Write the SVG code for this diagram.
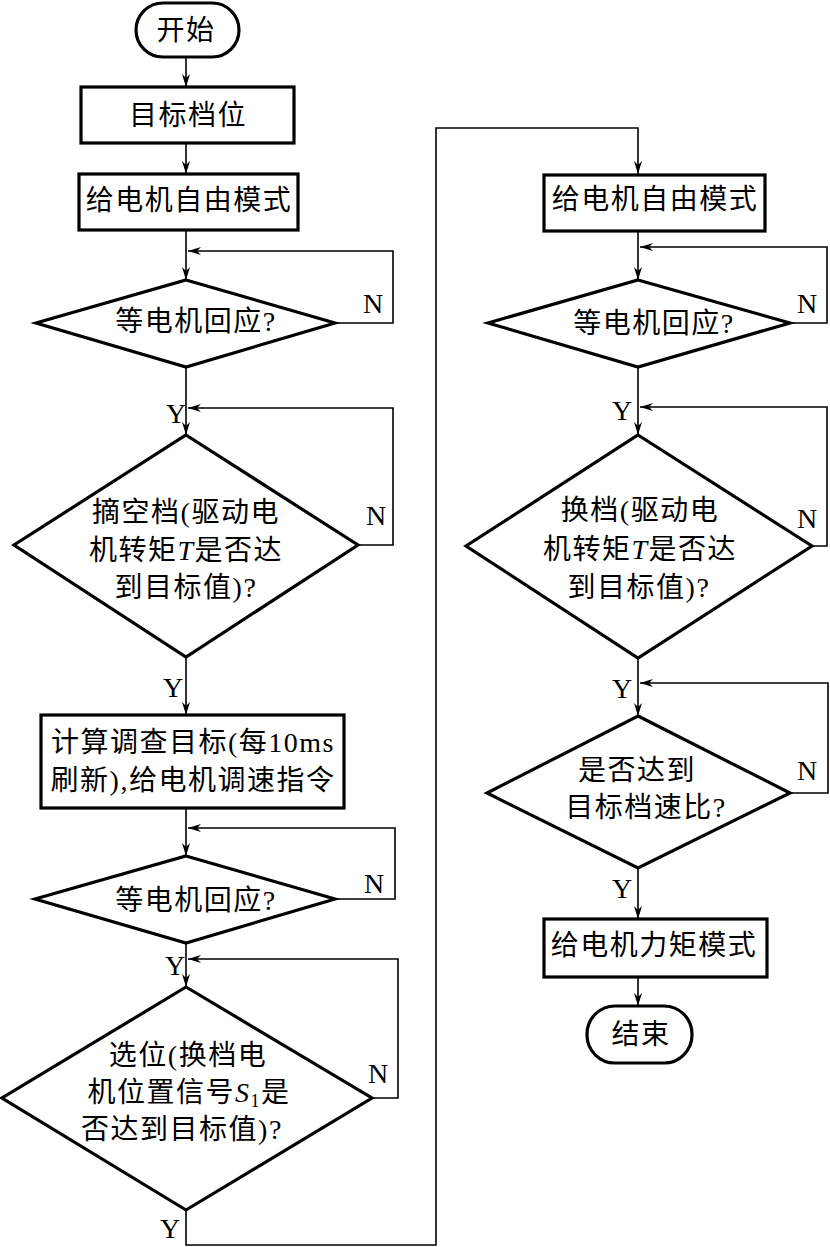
<svg xmlns="http://www.w3.org/2000/svg" width="830" height="1247" viewBox="0 0 830 1247">
<style>
.shape{fill:#fff;stroke:#000;stroke-width:3.2;stroke-linejoin:miter}
.conn{fill:none;stroke:#000;stroke-width:1.6}
.t{font-family:"Liberation Serif","Noto Sans CJK SC",serif;font-size:28px;letter-spacing:1.5px;text-anchor:middle;fill:#000}
.lbl{font-family:"Liberation Serif",serif;font-size:28px;fill:#000}
</style>
<defs>
<marker id="arr" markerUnits="userSpaceOnUse" markerWidth="14" markerHeight="10" refX="13" refY="4" orient="auto">
<path d="M0,0 L13,4 L0,8 L4,4 Z" fill="#000"/>
</marker>
</defs>
<rect width="830" height="1247" fill="#fff"/>
<g id="connectors">
<path class="conn" d="M186,57 V87" marker-end="url(#arr)"/>
<path class="conn" d="M186,143 V174" marker-end="url(#arr)"/>
<path class="conn" d="M186,230 V280" marker-end="url(#arr)"/>
<path class="conn" d="M335,323 H393 V251 H188" marker-end="url(#arr)"/>
<path class="conn" d="M186,367 V435" marker-end="url(#arr)"/>
<path class="conn" d="M358,545 H393 V408 H188" marker-end="url(#arr)"/>
<path class="conn" d="M186,657 V715" marker-end="url(#arr)"/>
<path class="conn" d="M186,808 V856" marker-end="url(#arr)"/>
<path class="conn" d="M335,899 H395 V828 H188" marker-end="url(#arr)"/>
<path class="conn" d="M186,943 V987" marker-end="url(#arr)"/>
<path class="conn" d="M372,1098 H398 V959 H188" marker-end="url(#arr)"/>
<path class="conn" d="M186,1210 V1245 H436 V128 H638 V174" marker-end="url(#arr)"/>
<path class="conn" d="M638,231 V280" marker-end="url(#arr)"/>
<path class="conn" d="M790,323 H827 V247 H640" marker-end="url(#arr)"/>
<path class="conn" d="M638,367 V435" marker-end="url(#arr)"/>
<path class="conn" d="M812,546 H827 V407 H640" marker-end="url(#arr)"/>
<path class="conn" d="M638,658 V716" marker-end="url(#arr)"/>
<path class="conn" d="M790,793 H828 V683 H640" marker-end="url(#arr)"/>
<path class="conn" d="M638,868 V919" marker-end="url(#arr)"/>
<path class="conn" d="M638,977 V1006" marker-end="url(#arr)"/>
<text class="lbl" x="363" y="313">N</text>
<text class="lbl" x="366" y="525">N</text>
<text class="lbl" x="364" y="893">N</text>
<text class="lbl" x="368" y="1083">N</text>
<text class="lbl" x="797" y="313">N</text>
<text class="lbl" x="797" y="528">N</text>
<text class="lbl" x="797" y="780">N</text>
<text class="lbl" x="166" y="423">Y</text>
<text class="lbl" x="163" y="697">Y</text>
<text class="lbl" x="165" y="975">Y</text>
<text class="lbl" x="160" y="1238">Y</text>
<text class="lbl" x="612" y="420">Y</text>
<text class="lbl" x="612" y="698">Y</text>
<text class="lbl" x="612" y="898">Y</text>
</g>
<g id="start">
<rect class="shape" x="136" y="3" width="103" height="54" rx="27"/>
<text class="t" x="186" y="40">开始</text>
</g>
<g id="target-gear">
<rect class="shape" x="81" y="87" width="213" height="56"/>
<text class="t" x="188" y="125">目标档位</text>
</g>
<g id="free-mode-1">
<rect class="shape" x="79" y="174" width="219" height="56"/>
<text class="t" x="189" y="210">给电机自由模式</text>
</g>
<g id="wait-1">
<polygon class="shape" points="186,280 335,323 186,367 36,323"/>
<text class="t" x="196" y="331">等电机回应?</text>
</g>
<g id="neutral">
<polygon class="shape" points="186,435 358,545 186,657 14,545"/>
<text class="t" x="186" y="522">摘空档(驱动电</text>
<text class="t" x="186" y="560">机转矩<tspan font-style="italic">T</tspan>是否达</text>
<text class="t" x="186" y="597">到目标值)?</text>
</g>
<g id="compute">
<rect class="shape" x="41" y="715" width="303" height="93"/>
<text class="t" x="193" y="752">计算调查目标(每10ms</text>
<text class="t" x="193" y="790">刷新),给电机调速指令</text>
</g>
<g id="wait-2">
<polygon class="shape" points="186,856 335,899 186,943 35,899"/>
<text class="t" x="196" y="910">等电机回应?</text>
</g>
<g id="select">
<polygon class="shape" points="186,987 372,1098 186,1210 2,1098"/>
<text class="t" x="188" y="1065">选位(换档电</text>
<text class="t" x="189" y="1102">机位置信号<tspan font-style="italic">S</tspan><tspan font-size="18" dy="5">1</tspan><tspan dy="-5">是</tspan></text>
<text class="t" x="182" y="1139">否达到目标值)?</text>
</g>
<g id="free-mode-2">
<rect class="shape" x="544" y="175" width="221" height="56"/>
<text class="t" x="655" y="209">给电机自由模式</text>
</g>
<g id="wait-3">
<polygon class="shape" points="638,280 790,323 638,367 488,323"/>
<text class="t" x="654" y="333">等电机回应?</text>
</g>
<g id="shift">
<polygon class="shape" points="638,435 812,546 638,658 466,546"/>
<text class="t" x="640" y="520">换档(驱动电</text>
<text class="t" x="640" y="559">机转矩<tspan font-style="italic">T</tspan>是否达</text>
<text class="t" x="639" y="597">到目标值)?</text>
</g>
<g id="ratio">
<polygon class="shape" points="638,716 790,793 638,868 487,793"/>
<text class="t" x="637" y="780">是否达到</text>
<text class="t" x="646" y="817">目标档速比?</text>
</g>
<g id="torque-mode">
<rect class="shape" x="544" y="919" width="223" height="58"/>
<text class="t" x="654" y="955">给电机力矩模式</text>
</g>
<g id="end">
<rect class="shape" x="587" y="1006" width="105" height="57" rx="28"/>
<text class="t" x="641" y="1044">结束</text>
</g>
</svg>
